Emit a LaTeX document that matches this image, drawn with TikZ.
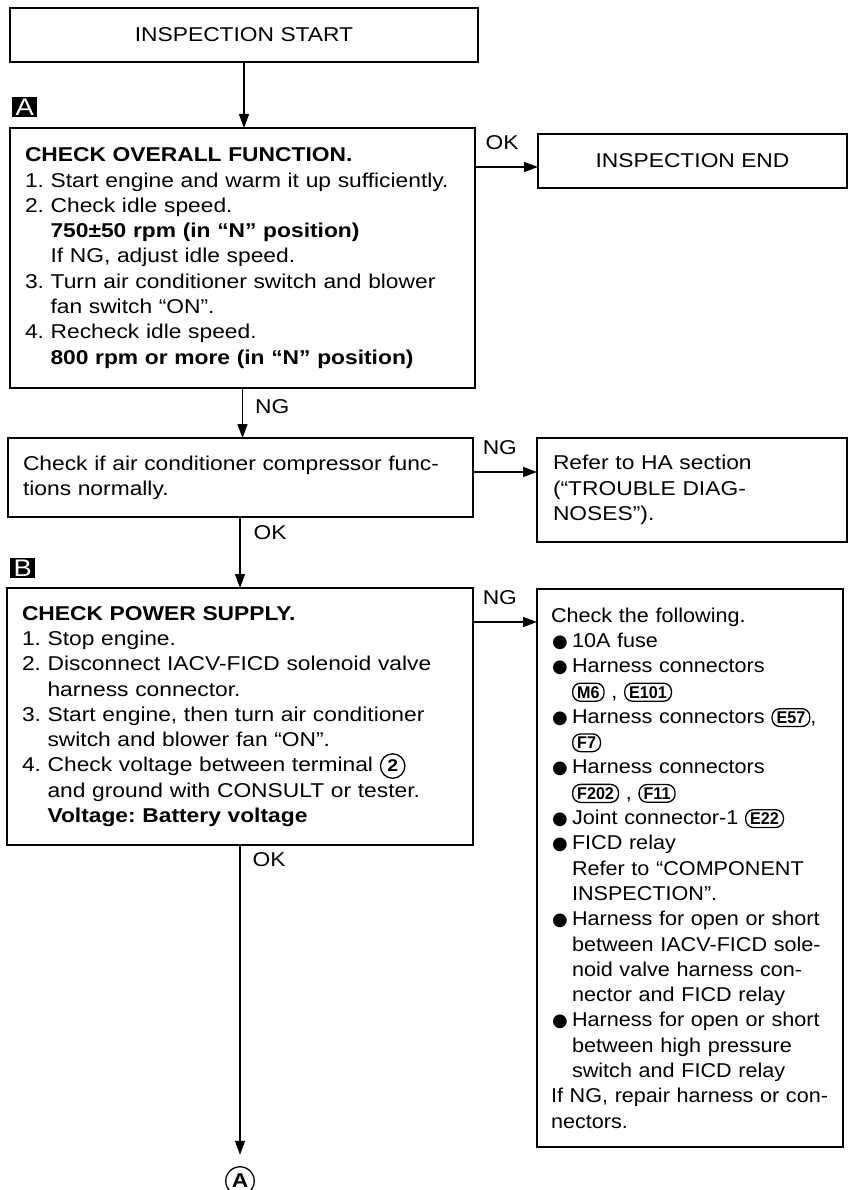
\documentclass[tikz,border=0pt]{standalone}
\usepackage{fontspec}
\setmainfont[FakeStretch=1.14]{Liberation Sans}
\newfontfamily\narrowfont[FakeStretch=1.08]{Liberation Sans}
\newfontfamily\bltfont{DejaVu Sans}
\newfontfamily\connfont[FakeStretch=0.95]{Liberation Sans}
\usetikzlibrary{arrows.meta}
\frenchspacing
\newcommand{\numind}{\hspace*{25.5pt}}
\newcommand{\bltind}{\hspace*{21pt}}
\newcommand{\blt}{\makebox[21pt][l]{\hspace{1pt}\bltfont\fontsize{18}{18}\selectfont ●}}
\newcommand{\conn}[1]{\tikz[baseline=(cn.base)]\node[connoval] (cn) {#1};}
\newcommand{\term}[1]{\tikz[baseline=(tm.base)]\node[termcirc] (tm) {#1};}
\begin{document}
\begin{tikzpicture}[
    x=1pt, y=-1pt,
    chkbox/.style={draw, rectangle, line width=1.5pt, anchor=north west, inner xsep=15pt, inner ysep=0pt, outer sep=0pt, align=left, font=\fontsize{20}{25.3}\selectfont},
    termbox/.style={draw, rectangle, line width=1.5pt, anchor=north west, outer sep=0pt, font=\fontsize{20}{25.3}\selectfont},
    tagbox/.style={rectangle, fill=black, text=white, anchor=north west, minimum width=25pt, minimum height=20pt, inner sep=0pt, font=\fontsize{24}{24}\selectfont},
    lbl/.style={inner sep=0pt, font=\fontsize{20}{25.3}\selectfont},
    flow/.style={draw, line width=1.2pt, -{Triangle[length=14pt,width=10pt]}},
    connoval/.style={draw, rectangle, rounded corners=8pt, line width=1.3pt, inner xsep=4.5pt, inner ysep=3pt, minimum width=0pt, minimum height=0pt, text width={}, anchor=center, outer sep=0pt, font=\connfont\bfseries\fontsize{17}{17}\selectfont},
    termcirc/.style={draw, circle, line width=1.3pt, inner sep=3pt, minimum width=0pt, minimum height=0pt, text width={}, anchor=center, outer sep=0pt, font=\bfseries\fontsize{17}{17}\selectfont},
    endcirc/.style={draw, circle, line width=1.3pt, inner sep=2.5pt, outer sep=0pt, font=\bfseries\fontsize{20}{20}\selectfont}
]
  \useasboundingbox (0,0) rectangle (849,1190);
  % start and step A
  \node[termbox, minimum width=468pt, minimum height=54pt] (start) at (10,8) {INSPECTION START};
  \node[tagbox] (tagA) at (12,97) {A};
  \node[chkbox, text width=435pt, minimum height=260pt] (chkA) at (10,128) {%
    \textbf{CHECK OVERALL FUNCTION.}\\
    1. Start engine and warm it up sufficiently.\\
    2. Check idle speed.\\
    \numind\textbf{750±50 rpm (in “N” position)}\\
    \numind If NG, adjust idle speed.\\
    3. Turn air conditioner switch and blower\\
    \numind fan switch “ON”.\\
    4. Recheck idle speed.\\
    \numind\textbf{800 rpm or more (in “N” position)}};
  \node[termbox, minimum width=309pt, minimum height=54pt] (finish) at (538,134) {INSPECTION END};
  % compressor check
  \node[chkbox, text width=435pt, minimum height=79pt] (cmp) at (8,438) {%
    Check if air conditioner compressor func-\\
    tions normally.};
  \node[chkbox, text width=278pt, inner xsep=16pt, minimum height=104pt] (refer) at (537,438) {%
    Refer to HA section\\
    (“TROUBLE DIAG-\\
    NOSES”).};
  % step B
  \node[tagbox] (tagB) at (10,558) {B};
  \node[chkbox, text width=436pt, minimum height=257pt] (chkB) at (7,588) {%
    \textbf{CHECK POWER SUPPLY.}\\
    1. Stop engine.\\
    2. Disconnect IACV-FICD solenoid valve\\
    \numind harness connector.\\
    3. Start engine, then turn air conditioner\\
    \numind switch and blower fan “ON”.\\
    4. Check voltage between terminal \term{2}\\
    \numind and ground with CONSULT or tester.\\
    \numind\textbf{Voltage: Battery voltage}};
  \node[chkbox, text width=278pt, inner xsep=14pt, minimum height=558pt, font=\narrowfont\fontsize{20}{25.3}\selectfont] (flt) at (537,589) {%
    Check the following.\\
    \blt 10A fuse\\
    \blt Harness connectors\\
    \bltind\conn{M6} , \conn{E101}\\
    \blt\mbox{Harness connectors \conn{E57},}\\
    \bltind\conn{F7}\\
    \blt Harness connectors\\
    \bltind\conn{F202} , \conn{F11}\\
    \blt Joint connector-1 \conn{E22}\\
    \blt FICD relay\\
    \bltind Refer to “COMPONENT\\
    \bltind INSPECTION”.\\
    \blt\mbox{Harness for open or short}\\
    \bltind\mbox{between IACV-FICD sole-}\\
    \bltind noid valve harness con-\\
    \bltind nector and FICD relay\\
    \blt\mbox{Harness for open or short}\\
    \bltind between high pressure\\
    \bltind switch and FICD relay\\
    \mbox{If NG, repair harness or con-}\\
    nectors.};
  \node[endcirc] (conA) at (240,1181) {A};
  % connectors
  \draw[flow] (start.south) -- (start.south |- chkA.north);
  \coordinate (okA) at ([yshift=-39pt]chkA.north east);
  \draw[flow] (okA) -- node[lbl, pos=0.43, above=17pt] (okAl) {OK} (okA -| finish.west);
  \draw[flow] (chkA.south) -- node[lbl, pos=0.38, right=12pt] (ngAl) {NG} (chkA.south |- cmp.north);
  \coordinate (ngC) at ([yshift=-34pt]cmp.north east);
  \draw[flow] (ngC) -- node[lbl, pos=0.42, above=17pt] (ngCl) {NG} (ngC -| refer.west);
  \draw[flow] (cmp.south -| chkB.north) -- node[lbl, pos=0.225, right=13pt] (okCl) {OK} (chkB.north);
  \coordinate (ngB) at ([yshift=-34pt]chkB.north east);
  \draw[flow] (ngB) -- node[lbl, pos=0.42, above=17pt] (ngBl) {NG} (ngB -| flt.west);
  \draw[flow, shorten >=12pt] (chkB.south) -- node[lbl, pos=0.046, right=12pt] (okBl) {OK} (chkB.south |- conA.north);
\end{tikzpicture}
\end{document}
